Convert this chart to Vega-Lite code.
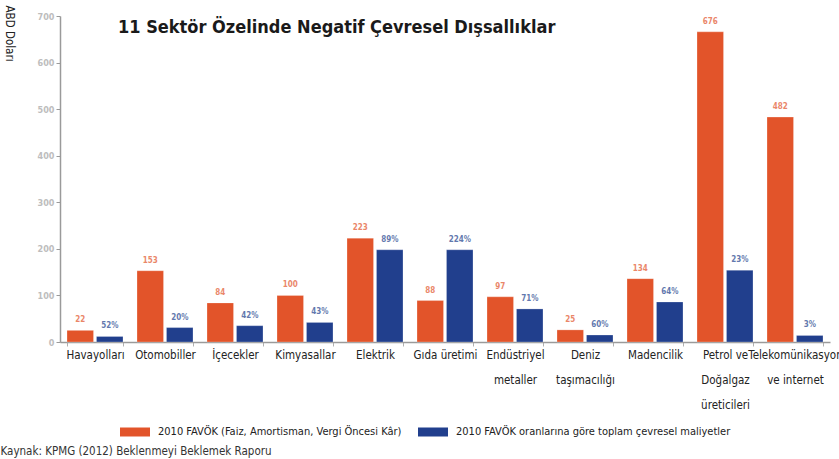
{
  "$schema": "https://vega.github.io/schema/vega-lite/v6.json",
  "width": 770,
  "height": 326,
  "autosize": {"type": "none"},
  "padding": {"left": 60, "top": 16, "right": 9, "bottom": 117},
  "background": "white",
  "config": {
    "view": {"stroke": null},
    "font": "DejaVu Sans Condensed, Roboto, sans-serif"
  },
  "title": {
    "text": "11 Sektör Özelinde Negatif Çevresel Dışsallıklar",
    "anchor": "start",
    "frame": "group",
    "orient": "top",
    "offset": 0,
    "dx": 58,
    "dy": 46,
    "baseline": "alphabetic",
    "font": "DejaVu Sans Condensed, Roboto, sans-serif",
    "fontSize": 18,
    "fontWeight": "bold",
    "color": "#1a1a1a"
  },
  "data": {
    "values": [
      {"sector": "Havayolları", "series": "2010 FAVÖK (Faiz, Amortisman, Vergi Öncesi Kâr)", "value": 25, "label": "22"},
      {"sector": "Havayolları", "series": "2010 FAVÖK oranlarına göre toplam çevresel maliyetler", "value": 12, "label": "52%"},
      {"sector": "Otomobiller", "series": "2010 FAVÖK (Faiz, Amortisman, Vergi Öncesi Kâr)", "value": 153, "label": "153"},
      {"sector": "Otomobiller", "series": "2010 FAVÖK oranlarına göre toplam çevresel maliyetler", "value": 31, "label": "20%"},
      {"sector": "İçecekler", "series": "2010 FAVÖK (Faiz, Amortisman, Vergi Öncesi Kâr)", "value": 84, "label": "84"},
      {"sector": "İçecekler", "series": "2010 FAVÖK oranlarına göre toplam çevresel maliyetler", "value": 35, "label": "42%"},
      {"sector": "Kimyasallar", "series": "2010 FAVÖK (Faiz, Amortisman, Vergi Öncesi Kâr)", "value": 100, "label": "100"},
      {"sector": "Kimyasallar", "series": "2010 FAVÖK oranlarına göre toplam çevresel maliyetler", "value": 42, "label": "43%"},
      {"sector": "Elektrik", "series": "2010 FAVÖK (Faiz, Amortisman, Vergi Öncesi Kâr)", "value": 223, "label": "223"},
      {"sector": "Elektrik", "series": "2010 FAVÖK oranlarına göre toplam çevresel maliyetler", "value": 198, "label": "89%"},
      {"sector": "Gıda üretimi", "series": "2010 FAVÖK (Faiz, Amortisman, Vergi Öncesi Kâr)", "value": 89, "label": "88"},
      {"sector": "Gıda üretimi", "series": "2010 FAVÖK oranlarına göre toplam çevresel maliyetler", "value": 198, "label": "224%"},
      {"sector": "Endüstriyel|metaller", "series": "2010 FAVÖK (Faiz, Amortisman, Vergi Öncesi Kâr)", "value": 97, "label": "97"},
      {"sector": "Endüstriyel|metaller", "series": "2010 FAVÖK oranlarına göre toplam çevresel maliyetler", "value": 71, "label": "71%"},
      {"sector": "Deniz|taşımacılığı", "series": "2010 FAVÖK (Faiz, Amortisman, Vergi Öncesi Kâr)", "value": 26, "label": "25"},
      {"sector": "Deniz|taşımacılığı", "series": "2010 FAVÖK oranlarına göre toplam çevresel maliyetler", "value": 15, "label": "60%"},
      {"sector": "Madencilik", "series": "2010 FAVÖK (Faiz, Amortisman, Vergi Öncesi Kâr)", "value": 136, "label": "134"},
      {"sector": "Madencilik", "series": "2010 FAVÖK oranlarına göre toplam çevresel maliyetler", "value": 86, "label": "64%"},
      {"sector": "Petrol ve|Doğalgaz|üreticileri", "series": "2010 FAVÖK (Faiz, Amortisman, Vergi Öncesi Kâr)", "value": 666, "label": "676"},
      {"sector": "Petrol ve|Doğalgaz|üreticileri", "series": "2010 FAVÖK oranlarına göre toplam çevresel maliyetler", "value": 154, "label": "23%"},
      {"sector": "Telekomünikasyon|ve internet", "series": "2010 FAVÖK (Faiz, Amortisman, Vergi Öncesi Kâr)", "value": 483, "label": "482"},
      {"sector": "Telekomünikasyon|ve internet", "series": "2010 FAVÖK oranlarına göre toplam çevresel maliyetler", "value": 14, "label": "3%"}
    ]
  },
  "encoding": {
    "x": {
      "field": "sector",
      "type": "nominal",
      "sort": ["Havayolları", "Otomobiller", "İçecekler", "Kimyasallar", "Elektrik", "Gıda üretimi", "Endüstriyel|metaller", "Deniz|taşımacılığı", "Madencilik", "Petrol ve|Doğalgaz|üreticileri", "Telekomünikasyon|ve internet"],
      "scale": {"paddingInner": 0.2, "paddingOuter": 0.1},
      "axis": {
        "labelExpr": "split(datum.label, '|')",
        "labelAngle": 0,
        "labelFont": "DejaVu Sans Condensed, Roboto, sans-serif",
        "labelFontSize": 11.5,
        "labelColor": "#222222",
        "labelLineHeight": 25,
        "labelPadding": 3,
        "labelLimit": 200,
        "labelBaseline": "top",
        "labelOverlap": false,
        "domainColor": "#9a9a9a",
        "domainWidth": 1.5,
        "tickColor": "#b0b0b0",
        "tickSize": 4,
        "tickBand": "extent",
        "title": "Kaynak: KPMG (2012) Beklenmeyi Beklemek Raporu",
        "titleAnchor": "start",
        "titleAlign": "left",
        "titleX": -60,
        "titleY": 112,
        "titleBaseline": "alphabetic",
        "titleFont": "DejaVu Sans Condensed, Roboto, sans-serif",
        "titleFontSize": 11.5,
        "titleFontWeight": "normal",
        "titleColor": "#333333"
      }
    },
    "xOffset": {
      "field": "series",
      "sort": ["2010 FAVÖK (Faiz, Amortisman, Vergi Öncesi Kâr)", "2010 FAVÖK oranlarına göre toplam çevresel maliyetler"],
      "scale": {"paddingInner": 0.1}
    },
    "y": {
      "field": "value",
      "type": "quantitative",
      "scale": {"domain": [0, 700], "nice": false},
      "axis": {
        "values": [0, 100, 200, 300, 400, 500, 600, 700],
        "grid": false,
        "labelColor": "#bdbdbd",
        "labelFontSize": 9,
        "labelFontWeight": "bold",
        "labelPadding": 2,
        "domainColor": "#9a9a9a",
        "domainWidth": 1.5,
        "tickColor": "#9a9a9a",
        "tickSize": 4,
        "title": "ABD Doları",
        "titleAngle": 90,
        "titleAlign": "left",
        "titleBaseline": "middle",
        "titleX": -52,
        "titleY": -11,
        "titleFont": "DejaVu Sans Condensed, Roboto, sans-serif",
        "titleFontSize": 11.5,
        "titleFontWeight": "normal",
        "titleColor": "#222222"
      }
    },
    "color": {
      "field": "series",
      "type": "nominal",
      "scale": {
        "domain": ["2010 FAVÖK (Faiz, Amortisman, Vergi Öncesi Kâr)", "2010 FAVÖK oranlarına göre toplam çevresel maliyetler"],
        "range": ["#e2542a", "#213f8d"]
      },
      "legend": {
        "title": null,
        "orient": "none",
        "direction": "horizontal",
        "legendX": 60,
        "legendY": 401,
        "symbolType": "M-1,-0.3H1V0.3H-1Z",
        "symbolSize": 900,
        "symbolStrokeWidth": 0,
        "symbolOpacity": 1,
        "labelFont": "DejaVu Sans Condensed, Roboto, sans-serif",
        "labelFontSize": 11,
        "labelColor": "#222222",
        "labelLimit": 400,
        "labelOffset": 8,
        "columnPadding": 16
      }
    }
  },
  "layer": [
    {"mark": {"type": "bar", "stroke": "#ffffff", "strokeOpacity": 0.5, "strokeWidth": 0.5}},
    {
      "mark": {"type": "text", "dy": -6, "baseline": "bottom", "fontSize": 8, "fontWeight": "bold", "opacity": 0.7},
      "encoding": {"text": {"field": "label"}}
    }
  ]
}
